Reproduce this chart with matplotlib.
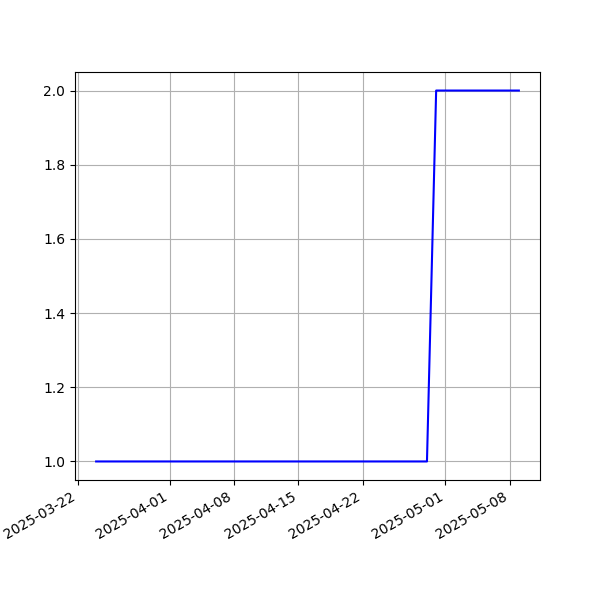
import matplotlib
matplotlib.use("Agg")
import matplotlib.pyplot as plt
import pandas as pd

# daily series, 2025-03-24 .. 2025-05-09
start_date = "2025-03-24"
end_date = "2025-05-09"
values = [1, 1, 1, 1, 1, 1, 1, 1,                       # Mar 24-31
          1, 1, 1, 1, 1, 1, 1, 1, 1, 1,                 # Apr 1-10
          1, 1, 1, 1, 1, 1, 1, 1, 1, 1,                 # Apr 11-20
          1, 1, 1, 1, 1, 1, 1, 1, 1,                    # Apr 21-29
          2,                                            # Apr 30
          2, 2, 2, 2, 2, 2, 2, 2, 2]                    # May 1-9

dates = pd.date_range(start_date, end_date, freq="D")

fig, ax = plt.subplots(figsize=(6, 6), dpi=100)
ax.plot(dates, values, color="blue")
ax.grid(True)
fig.autofmt_xdate()
fig.savefig("out.png", dpi=100)
